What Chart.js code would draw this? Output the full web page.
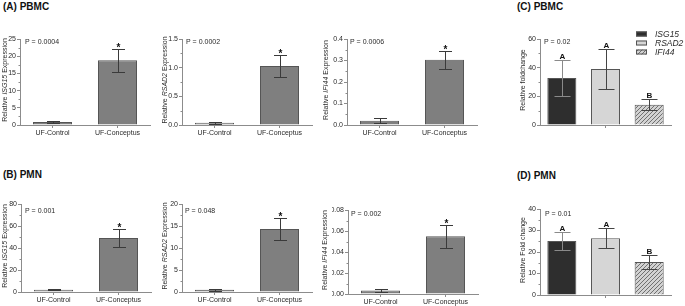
<!DOCTYPE html>
<html><head><meta charset="utf-8">
<script src="https://cdn.jsdelivr.net/npm/chart.js@4.4.1/dist/chart.umd.min.js"></script>
<style>
html,body{margin:0;padding:0;background:#fff}
body{width:685px;height:306px;position:relative;overflow:hidden;font-family:"Liberation Sans",Arial,sans-serif}
canvas{position:absolute;left:0;top:0}
.t{position:absolute;font-weight:bold;font-size:10px;line-height:12px;color:#111;white-space:nowrap}
</style></head><body>
<div class="t" style="left:3px;top:1px">(A) PBMC</div>
<div class="t" style="left:3px;top:169px">(B) PMN</div>
<div class="t" style="left:517px;top:1px">(C) PBMC</div>
<div class="t" style="left:517px;top:170px">(D) PMN</div>
<script>
// ---------- data ----------
const groups = ['UF-Control', 'UF-Conceptus'];
const genes = ['ISG15', 'RSAD2', 'IFI44'];

const pbmcISG15 = [0.85, 18.8];    const pbmcISG15Err = [0.25, 3.4];
const pbmcRSAD2 = [0.04, 1.03];    const pbmcRSAD2Err = [0.02, 0.19];
const pbmcIFI44 = [0.020, 0.303];  const pbmcIFI44Err = [0.011, 0.042];
const pmnISG15  = [2.1, 49.1];     const pmnISG15Err  = [0.7, 8.2];
const pmnRSAD2  = [0.5, 14.3];     const pmnRSAD2Err  = [0.25, 2.45];
const pmnIFI44  = [0.0033, 0.055]; const pmnIFI44Err  = [0.0013, 0.011];
const pbmcFold  = [32.8, 39.1, 14.2]; const pbmcFoldErr = [12.3, 14.0, 3.8];
const pmnFold   = [25.1, 26.4, 15.3]; const pmnFoldErr  = [4.0, 4.7, 3.3];

const groupMarks = ['', '*'];
const foldMarks = ['A', 'A', 'B'];
const pTexts = ['P = 0.0004', 'P = 0.0002', 'P = 0.0006', 'P = 0.02',
                'P = 0.001', 'P = 0.048', 'P = 0.002', 'P = 0.01'];

const ticksA1 = [0, 5, 10, 15, 20, 25];        const labsA1 = ['0','5','10','15','20','25'];
const ticksA2 = [0, 0.5, 1.0, 1.5];            const labsA2 = ['0.0','0.5','1.0','1.5'];
const ticksA3 = [0, 0.1, 0.2, 0.3, 0.4];       const labsA3 = ['0.0','0.1','0.2','0.3','0.4'];
const ticksC  = [0, 20, 40, 60];               const labsC  = ['0','20','40','60'];
const ticksB1 = [0, 20, 40, 60, 80];           const labsB1 = ['0','20','40','60','80'];
const ticksB2 = [0, 5, 10, 15, 20];            const labsB2 = ['0','5','10','15','20'];
const ticksB3 = [0, 0.02, 0.04, 0.06, 0.08];   const labsB3 = ['0.00','0.02','0.04','0.06','0.08'];
const ticksD  = [0, 10, 20, 30, 40];           const labsD  = ['0','10','20','30','40'];

// ---------- style ----------
const FF = '"Liberation Sans", Arial, sans-serif';
const AX = '#8c8c8c';
const TXT = '#2a2a2a';
const YW = 16, XH = 16, W = 685, H = 306;

function hatchPattern() {
  const c = document.createElement('canvas'); c.width = 4; c.height = 4;
  const g = c.getContext('2d');
  g.fillStyle = '#d2d2d2'; g.fillRect(0, 0, 4, 4);
  g.strokeStyle = '#707070'; g.lineWidth = 1;
  g.beginPath();
  g.moveTo(0, 4); g.lineTo(4, 0);
  g.moveTo(-1, 1); g.lineTo(1, -1);
  g.moveTo(3, 5); g.lineTo(5, 3);
  g.stroke();
  return g.createPattern(c, 'repeat');
}
const HATCH = hatchPattern();
const foldFill = ['#2e2e2e', '#d6d6d6', HATCH];
const foldErrColor = ['#8a8a8a', '#444', '#444'];

const yl = g => [['Relative ', 0], [g, 1], [' Expression', 0]];

const panels = [
  {labels: groups, values: pbmcISG15, errs: pbmcISG15Err, ticks: ticksA1, labs: labsA1, marks: groupMarks, ylab: yl('ISG15'), p: pTexts[0],
   box: {x: 20, top: 39, bottom: 125, right: 150}, ylx: 5, pPos: [25, 42]},
  {labels: groups, values: pbmcRSAD2, errs: pbmcRSAD2Err, ticks: ticksA2, labs: labsA2, marks: groupMarks, ylab: yl('RSAD2'), p: pTexts[1],
   box: {x: 182, top: 39, bottom: 125, right: 312}, ylx: 165, pPos: [186, 42]},
  {labels: groups, values: pbmcIFI44, errs: pbmcIFI44Err, ticks: ticksA3, labs: labsA3, marks: groupMarks, ylab: yl('IFI44'), p: pTexts[2],
   box: {x: 347, top: 39, bottom: 125, right: 477}, ylx: 326, pPos: [350, 42]},
  {labels: genes, values: pbmcFold, errs: pbmcFoldErr, ticks: ticksC, labs: labsC, marks: foldMarks, ylab: [['Relative foldchange', 0]], p: pTexts[3],
   box: {x: 540, top: 39, bottom: 125, right: 671}, ylx: 523, pPos: [544, 42], fold: true, legend: true},
  {labels: groups, values: pmnISG15, errs: pmnISG15Err, ticks: ticksB1, labs: labsB1, marks: groupMarks, ylab: yl('ISG15'), p: pTexts[4],
   box: {x: 21, top: 204, bottom: 292, right: 151}, ylx: 5, pPos: [25, 211]},
  {labels: groups, values: pmnRSAD2, errs: pmnRSAD2Err, ticks: ticksB2, labs: labsB2, marks: groupMarks, ylab: yl('RSAD2'), p: pTexts[5],
   box: {x: 182, top: 204, bottom: 292, right: 312}, ylx: 165, pPos: [185, 211]},
  {labels: groups, values: pmnIFI44, errs: pmnIFI44Err, ticks: ticksB3, labs: labsB3, marks: groupMarks, ylab: yl('IFI44'), p: pTexts[6],
   box: {x: 348, top: 210, bottom: 294, right: 478}, ylx: 325, pPos: [351, 214]},
  {labels: genes, values: pmnFold, errs: pmnFoldErr, ticks: ticksD, labs: labsD, marks: foldMarks, ylab: [['Relative Fold change', 0]], p: pTexts[7],
   box: {x: 540, top: 209, bottom: 295, right: 671}, ylx: 523, pPos: [545, 214], fold: true}
];

function deco(P) {
  return {
    id: 'deco',
    afterDraw(chart) {
      const ctx = chart.ctx, ys = chart.scales.y, ca = chart.chartArea;
      ctx.save();
      // minor ticks
      ctx.strokeStyle = AX; ctx.lineWidth = 1;
      for (let i = 0; i < P.ticks.length - 1; i++) {
        const y = Math.round(ys.getPixelForValue((P.ticks[i] + P.ticks[i + 1]) / 2)) + 0.5;
        const x = Math.round(ca.left) + 0.5;
        ctx.beginPath(); ctx.moveTo(x - 2, y); ctx.lineTo(x, y); ctx.stroke();
      }
      // error bars + marks
      const meta = chart.getDatasetMeta(0);
      const cw = P.fold ? 16 : 13;
      meta.data.forEach((bar, i) => {
        const v = P.values[i], e = P.errs[i];
        const x = Math.round(bar.x) + 0.5;
        const yT = Math.round(ys.getPixelForValue(v + e)) + 0.5;
        const yB = Math.round(ys.getPixelForValue(Math.max(v - e, 0))) + 0.5;
        ctx.strokeStyle = P.fold ? foldErrColor[i] : '#3a3a3a';
        ctx.beginPath();
        ctx.moveTo(x, yB); ctx.lineTo(x, yT);
        ctx.moveTo(x - cw / 2, yT); ctx.lineTo(x + cw / 2, yT);
        ctx.moveTo(x - cw / 2, yB); ctx.lineTo(x + cw / 2, yB);
        ctx.stroke();
        const m = P.marks[i];
        if (m) {
          ctx.fillStyle = '#111'; ctx.textAlign = 'center'; ctx.textBaseline = 'alphabetic';
          if (m === '*') { ctx.font = 'bold 10px ' + FF; ctx.fillText(m, x, yT + 1.5); }
          else { ctx.font = 'bold 8px ' + FF; ctx.fillText(m, x, yT - 1.5); }
        }
      });
      // y-axis label with italic gene name
      ctx.fillStyle = TXT; ctx.textBaseline = 'middle'; ctx.textAlign = 'left';
      const fn = it => (it ? 'italic ' : '') + '7px ' + FF;
      let total = 0;
      P.ylab.forEach(([t, it]) => { ctx.font = fn(it); total += ctx.measureText(t).width; });
      ctx.translate(P.ylx, (ca.top + ca.bottom) / 2 - 2);
      ctx.rotate(-Math.PI / 2);
      let cx = -total / 2;
      P.ylab.forEach(([t, it]) => { ctx.font = fn(it); ctx.fillText(t, cx, 0); cx += ctx.measureText(t).width; });
      ctx.setTransform(1, 0, 0, 1, 0, 0);
      // P value text
      ctx.font = '7px ' + FF; ctx.fillStyle = TXT; ctx.textAlign = 'left'; ctx.textBaseline = 'middle';
      ctx.fillText(P.p, P.pPos[0], P.pPos[1]);
      // legend
      if (P.legend) {
        const rows = [34, 43, 52];
        genes.forEach((g, i) => {
          ctx.fillStyle = foldFill[i];
          ctx.fillRect(636, rows[i] - 2.5, 11, 5);
          ctx.strokeStyle = '#555'; ctx.lineWidth = 1;
          ctx.strokeRect(636.5, rows[i] - 2, 10, 4);
          ctx.fillStyle = TXT; ctx.font = 'italic 8.5px ' + FF; ctx.textBaseline = 'middle';
          ctx.fillText(g, 655, rows[i] + 0.5);
        });
      }
      ctx.restore();
    }
  };
}

panels.forEach(P => {
  const cv = document.createElement('canvas');
  cv.width = W; cv.height = H; cv.style.width = W + 'px'; cv.style.height = H + 'px';
  document.body.appendChild(cv);
  const B = P.box;
  new Chart(cv, {
    type: 'bar',
    data: {
      labels: P.labels,
      datasets: [{
        data: P.values,
        backgroundColor: P.fold ? foldFill : '#7f7f7f',
        borderColor: '#555', borderWidth: 1, borderSkipped: 'start',
        barPercentage: P.fold ? 0.665 : 0.6, categoryPercentage: 1
      }]
    },
    options: {
      responsive: false, animation: false, devicePixelRatio: 1,
      layout: {padding: {left: B.x - YW, top: B.top, right: W - B.right, bottom: H - B.bottom - XH}},
      plugins: {legend: {display: false}, tooltip: {enabled: false}},
      scales: {
        x: {
          type: 'category', offset: true,
          grid: {offset: false, drawOnChartArea: false, drawTicks: true, tickLength: 3,
                 color: AX, tickColor: c => (!P.fold || c.index === 1) ? AX : 'rgba(0,0,0,0)'},
          border: {color: AX, width: 1},
          ticks: {display: !P.fold, font: {family: FF, size: 7}, color: TXT, padding: 1, maxRotation: 0, autoSkip: false},
          afterFit: s => { s.height = XH; }
        },
        y: {
          min: 0, max: P.ticks[P.ticks.length - 1],
          grid: {drawOnChartArea: false, drawTicks: true, tickLength: 3, color: AX},
          border: {color: AX, width: 1},
          ticks: {font: {family: FF, size: 7}, color: TXT, padding: 1, callback: (v, i) => P.labs[i]},
          afterBuildTicks: s => { s.ticks = P.ticks.map(v => ({value: v})); },
          afterFit: s => { s.width = YW; }
        }
      }
    },
    plugins: [deco(P)]
  });
});
</script>
</body></html>
